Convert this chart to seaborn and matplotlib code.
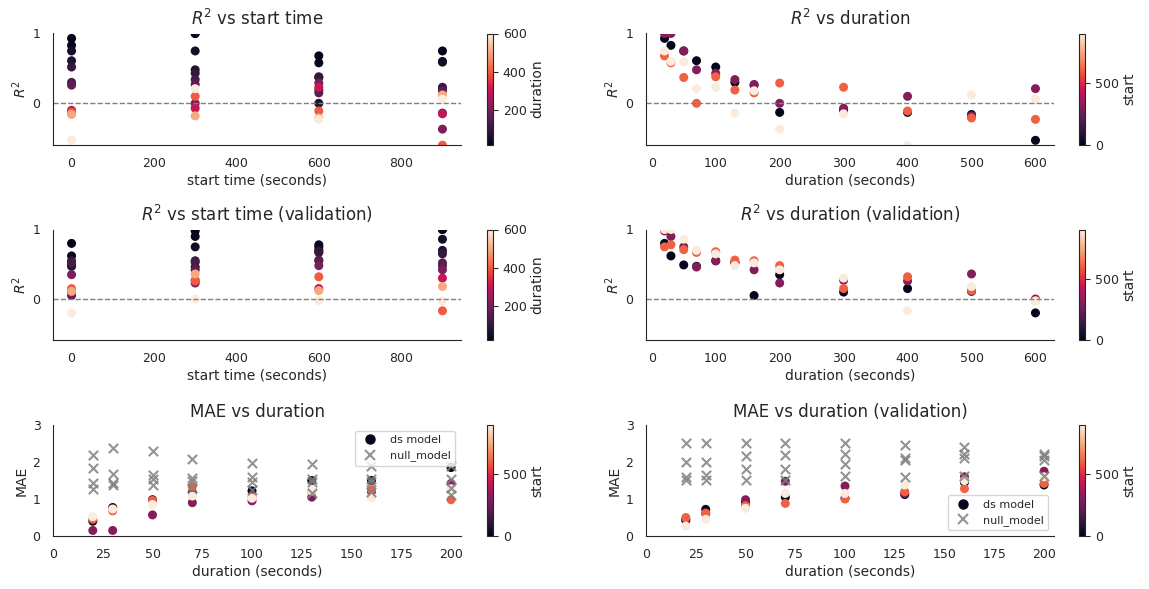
import numpy as np
import pandas as pd
import matplotlib
matplotlib.use("Agg")
import matplotlib.pyplot as plt
import seaborn as sns
from matplotlib.colors import Normalize
from matplotlib.cm import ScalarMappable
from matplotlib.lines import Line2D

# dados: linhas = start, colunas = duração
starts = [0, 300, 600, 900]
durations = [20, 30, 50, 70, 100, 130, 160, 200, 300, 400, 500, 600]
mae_durations = [20, 30, 50, 70, 100, 130, 160, 200]

r2_train = [
    [0.93, 0.83, 0.75, 0.61, 0.52, 0.30, 0.26, -0.13, -0.10, -0.13, -0.16, -0.53],
    [1.00, 1.00, 0.75, 0.48, 0.43, 0.34, 0.27, 0.00, -0.07, 0.10, -0.18, 0.21],
    [0.68, 0.58, 0.37, 0.00, 0.38, 0.19, 0.15, 0.29, 0.23, -0.11, -0.21, -0.23],
    [0.75, 0.60, 0.59, 0.21, 0.23, -0.14, 0.18, -0.37, -0.15, -0.60, 0.12, 0.06],
]
r2_val = [
    [0.80, 0.62, 0.49, 0.47, 0.55, 0.52, 0.05, 0.35, 0.10, 0.15, 0.11, -0.20],
    [0.98, 0.90, 0.75, 0.46, 0.55, 0.53, 0.42, 0.23, 0.27, 0.26, 0.36, 0.00],
    [0.75, 0.78, 0.71, 0.67, 0.68, 0.56, 0.55, 0.48, 0.15, 0.32, 0.12, -0.02],
    [1.00, 1.00, 0.86, 0.70, 0.65, 0.48, 0.52, 0.42, 0.30, -0.17, 0.18, -0.03],
]

mae_train = [
    [0.40, 0.77, 0.98, 1.18, 1.22, 1.50, 1.50, 1.85],
    [0.15, 0.15, 0.57, 0.90, 0.95, 1.05, 1.20, 1.42],
    [0.45, 0.68, 0.96, 1.33, 1.05, 1.20, 1.25, 0.98],
    [0.52, 0.73, 0.85, 1.08, 1.02, 1.22, 1.03, 1.28],
]
null_train = [
    [2.18, 2.37, 2.29, 2.07, 1.98, 1.95, 1.88, 1.90],
    [1.85, 1.68, 1.65, 1.58, 1.60, 1.55, 1.55, 1.55],
    [1.42, 1.42, 1.55, 1.50, 1.45, 1.45, 1.45, 1.30],
    [1.28, 1.38, 1.38, 1.30, 1.25, 1.15, 1.20, 1.10],
]
mae_val = [
    [0.42, 0.72, 0.92, 1.05, 1.02, 1.12, 1.45, 1.38],
    [0.45, 0.60, 0.98, 1.48, 1.35, 1.15, 1.60, 1.75],
    [0.50, 0.62, 0.82, 0.88, 1.00, 1.20, 1.28, 1.42],
    [0.27, 0.45, 0.75, 1.15, 1.15, 1.38, 1.50, 1.60],
]
null_val = [
    [2.52, 2.52, 2.52, 2.52, 2.52, 2.45, 2.40, 2.22],
    [2.00, 2.00, 2.15, 2.18, 2.22, 2.12, 2.22, 2.15],
    [1.60, 1.65, 1.80, 1.82, 1.95, 2.05, 2.12, 2.05],
    [1.52, 1.52, 1.52, 1.52, 1.62, 1.60, 1.62, 1.62],
]


def tabela(valores, durs, nome="valor"):
    linhas = []
    for i, s in enumerate(starts):
        for j, d in enumerate(durs):
            linhas.append({"start": s, "duration": d, nome: valores[i][j]})
    return pd.DataFrame(linhas)


sns.set_style("white")
plt.rcParams["xtick.labelsize"] = 9
plt.rcParams["ytick.labelsize"] = 9
plt.rcParams["xtick.major.pad"] = 5.5
plt.rcParams["ytick.major.pad"] = 5.5
plt.rcParams["axes.labelsize"] = 10
plt.rcParams["axes.labelpad"] = 2.5
plt.rcParams["axes.titlesize"] = 12

cmap = sns.color_palette("rocket", as_cmap=True)
norm_dur = Normalize(vmin=min(durations), vmax=max(durations))
norm_start = Normalize(vmin=min(starts), vmax=max(starts))

W, H = 1149, 589
fig = plt.figure(figsize=(W / 100, H / 100), dpi=100)


def criar_eixos(col, top, bottom):
    # posições em pixels convertidas para fração da figura
    x0 = [53, 646][col]
    xcb = [487, 1079][col]
    ax = fig.add_axes([x0 / W, 1 - bottom / H, 408 / W, (bottom - top) / H])
    cax = fig.add_axes([xcb / W, 1 - bottom / H, 6 / W, (bottom - top) / H])
    return ax, cax


linhas_px = [(33.5, 144.5), (229.5, 340), (425, 536)]


def painel_r2(ax, cax, df, x, hue, norm, titulo, xlabel, cb_label, cb_ticks):
    sns.scatterplot(data=df, x=x, y="r2", hue=hue, hue_norm=norm, palette=cmap,
                    s=42, linewidth=0, legend=False, ax=ax)
    ax.axhline(0, color="grey", linestyle="--", linewidth=1)
    ax.set_ylim(-0.59, 1)
    ax.set_yticks([0, 1])
    ax.set_title(titulo)
    ax.set_xlabel(xlabel)
    ax.set_ylabel("$R^2$")
    cb = fig.colorbar(ScalarMappable(norm=norm, cmap=cmap), cax=cax)
    cb.set_label(cb_label)
    cb.set_ticks(cb_ticks)
    cb.ax.tick_params(pad=3.5)
    sns.despine(ax=ax)


def painel_mae(ax, cax, df, titulo, loc):
    sns.scatterplot(data=df, x="duration", y="mae", hue="start", hue_norm=norm_start,
                    palette=cmap, s=42, linewidth=0, legend=False, ax=ax)
    sns.scatterplot(data=df, x="duration", y="null", color="grey", marker="x",
                    s=45, linewidth=1.5, alpha=0.85, legend=False, ax=ax)
    ax.set_ylim(0, 3)
    ax.set_yticks([0, 1, 2, 3])
    ax.set_xlim(0, 205)
    ax.set_xticks(np.arange(0, 201, 25))
    ax.set_title(titulo)
    ax.set_xlabel("duration (seconds)")
    ax.set_ylabel("MAE")
    handles = [
        Line2D([], [], marker="o", linestyle="", color=cmap(0.0), markersize=6.5),
        Line2D([], [], marker="x", linestyle="", color="grey", alpha=0.85,
               markersize=6.5, markeredgewidth=1.5),
    ]
    ax.legend(handles, ["ds model", "null_model"], loc=loc, fontsize=8)
    cb = fig.colorbar(ScalarMappable(norm=norm_start, cmap=cmap), cax=cax)
    cb.set_label("start")
    cb.set_ticks([0, 500])
    cb.ax.tick_params(pad=3.5)
    sns.despine(ax=ax)


df_train = tabela(r2_train, durations, "r2")
df_val = tabela(r2_val, durations, "r2")

ax, cax = criar_eixos(0, *linhas_px[0])
painel_r2(ax, cax, df_train, "start", "duration", norm_dur,
          "$R^2$ vs start time", "start time (seconds)", "duration", [200, 400, 600])
ax, cax = criar_eixos(1, *linhas_px[0])
painel_r2(ax, cax, df_train, "duration", "start", norm_start,
          "$R^2$ vs duration", "duration (seconds)", "start", [0, 500])
ax, cax = criar_eixos(0, *linhas_px[1])
painel_r2(ax, cax, df_val, "start", "duration", norm_dur,
          "$R^2$ vs start time (validation)", "start time (seconds)", "duration", [200, 400, 600])
ax, cax = criar_eixos(1, *linhas_px[1])
painel_r2(ax, cax, df_val, "duration", "start", norm_start,
          "$R^2$ vs duration (validation)", "duration (seconds)", "start", [0, 500])

df_mae = tabela(mae_train, mae_durations, "mae")
df_mae["null"] = tabela(null_train, mae_durations, "null")["null"]
df_mae_val = tabela(mae_val, mae_durations, "mae")
df_mae_val["null"] = tabela(null_val, mae_durations, "null")["null"]

ax, cax = criar_eixos(0, *linhas_px[2])
painel_mae(ax, cax, df_mae, "MAE vs duration", "upper right")
ax, cax = criar_eixos(1, *linhas_px[2])
painel_mae(ax, cax, df_mae_val, "MAE vs duration (validation)", "lower right")

plt.savefig("out.png", dpi=100)
